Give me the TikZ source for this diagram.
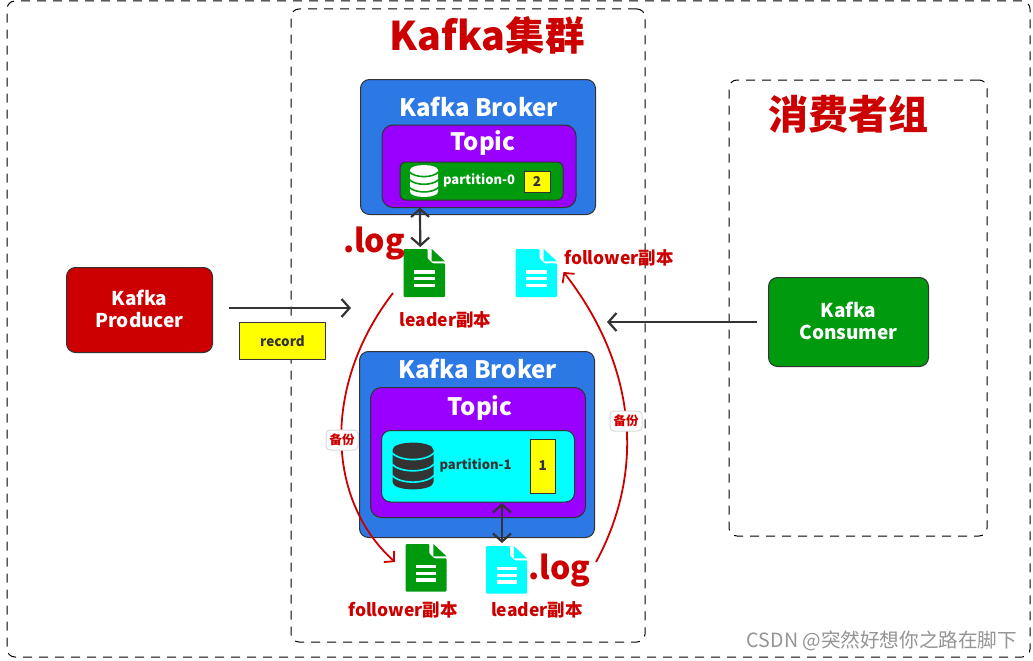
\documentclass[tikz,border=0pt]{standalone}
\usepackage{fontspec}
\setmainfont{Noto Sans CJK SC}
\usetikzlibrary{arrows.meta,calc}
\definecolor{kblue}{HTML}{2C78E4}
\definecolor{kpurple}{HTML}{9900FF}
\definecolor{kgreen}{HTML}{009A0E}
\definecolor{kred}{HTML}{CC0000}
\definecolor{kdark}{HTML}{333333}
\definecolor{kyellow}{HTML}{FFFF00}
\definecolor{kcyan}{HTML}{00FFFF}
\tikzset{
  x=1pt,y=-1pt,
  every node/.style={font=\bfseries,inner sep=0pt,outer sep=0pt,align=center},
  zone/.style={draw=black,line width=1pt,dash pattern=on 9pt off 7pt,rounded corners=8pt,fill=none},
  box/.style={draw=kdark,line width=1pt,rounded corners=#1,anchor=north west},
  box/.default=9pt,
  sticker/.style={draw=kdark,line width=1pt,fill=kyellow,text=kdark},
  title/.style={text=kred,font=\bfseries\fontsize{#1}{#1}\selectfont},
  redlabel/.style={text=kred,font=\bfseries\fontsize{17.5}{17.5}\selectfont},
  whitehead/.style={text=white,font=\bfseries\fontsize{#1}{#1}\selectfont},
  flow/.style={draw=kdark,line width=2.2pt,-{Straight Barb[length=8pt,width=18pt,line width=2.2pt]}},
  both/.style={draw=kdark,line width=2.2pt,{Straight Barb[length=8pt,width=18pt,line width=2.2pt]}-{Straight Barb[length=8pt,width=18pt,line width=2.2pt]}},
  backup/.style={draw=kred,line width=1.8pt,-{Straight Barb[length=7pt,width=15pt,line width=1.8pt]}},
  badge/.style={draw=black!15,line width=1pt,fill=white,rounded corners=4pt,minimum width=32pt,minimum height=20pt,text=kred,font=\bfseries\fontsize{12.5}{12.5}\selectfont},
  iconbox/.style 2 args={minimum width=#1,minimum height=#2},
}
% file icon: centre, width, height, colour
\newcommand{\fileicon}[4]{%
  \begin{scope}[shift={#1},x=#2,y=-#3]
    \fill[#4,rounded corners=1pt] (-.5,-.5) -- (.08,-.5) -- (.08,-.3) -- (.2,-.2) -- (.5,-.2) -- (.5,.5) -- (-.5,.5) -- cycle;
    \fill[#4] (.18,-.5) -- (.5,-.24) -- (.18,-.24) -- cycle;
    \foreach \yy in {-.02,.12,.26}{\fill[white] (-.24,\yy-.035) rectangle (.25,\yy+.035);}
  \end{scope}}
% database icon: centre, width, height, colour, background
\newcommand{\dbicon}[5]{%
  \begin{scope}[shift={#1},x=#2,y=-#3]
    \fill[#4] (-.5,-.34) .. controls (-.5,-.55) and (.5,-.55) .. (.5,-.34) -- (.5,.34) .. controls (.5,.55) and (-.5,.55) .. (-.5,.34) -- cycle;
    \foreach \yy in {-.28,-.04,.2}{\draw[#5,line width=1.6pt] (-.52,\yy) .. controls (-.3,\yy+.19) and (.3,\yy+.19) .. (.52,\yy);}
  \end{scope}}
\begin{document}
\begin{tikzpicture}
\useasboundingbox (0,0) rectangle (1033,661);
\fill[white] (0,0) rectangle (1033,661);
% zones
\node[zone,minimum width=1023pt,minimum height=656pt,anchor=north west] (outer) at (7,1) {};
\node[zone,minimum width=354pt,minimum height=633pt,anchor=north west] (cluster) at (291,9) {};
\node[zone,minimum width=258pt,minimum height=456pt,anchor=north west] (group) at (729,80) {};
\node[title=39.5] (clustertitle) at (487,35) {Kafka集群};
\node[title=40] (grouptitle) at (848,114) {消费者组};
% producer & consumer
\node[box,fill=kred,minimum width=146pt,minimum height=85pt,whitehead=19] (producer) at (66.5,267.5) {\raisebox{2pt}{Kafka}\\[3pt]\raisebox{2pt}{Producer}};
\node[box,fill=kgreen,minimum width=160pt,minimum height=89pt,whitehead=19] (consumer) at (768.5,277.5) {\raisebox{2pt}{Kafka}\\[3pt]\raisebox{2pt}{Consumer}};
\node[sticker,minimum width=86pt,minimum height=37pt,anchor=north west,font=\bfseries\fontsize{13.5}{13.5}\selectfont] (record) at (239.5,322.5) {record};
\coordinate (clusterin) at (351,308);
\coordinate (clusterout) at (607,322);
\draw[flow] ([xshift=16.5pt,yshift=2pt]producer.east) -- (clusterin);
\draw[flow] ([xshift=-12pt,yshift=0pt]consumer.west) -- (clusterout);
% broker 1
\node[box,fill=kblue,minimum width=235pt,minimum height=135pt] (broker1) at (360.5,79.5) {};
\node[whitehead=24] (broker1t) at (478.5,107) {Kafka Broker};
\node[box=11pt,fill=kpurple,minimum width=194pt,minimum height=82.5pt] (topic1) at (382,125) {};
\node[whitehead=24] (topic1t) at (483,143) {Topic};
\node[box=6pt,fill=kgreen,minimum width=163pt,minimum height=38pt] (part0) at (400,162) {};
\dbicon{(424,181)}{28pt}{32pt}{white}{kgreen}
\node[whitehead=13] (part0t) at (479,180.5) {partition-0};
\node[sticker,minimum width=26pt,minimum height=21pt,anchor=north west,font=\bfseries\fontsize{13.5}{13.5}\selectfont] (count2) at (524,171) {2};
% broker 2
\node[box,fill=kblue,minimum width=235pt,minimum height=186pt] (broker2) at (359.5,351.5) {};
\node[whitehead=24] (broker2t) at (477.5,369) {Kafka Broker};
\node[box=11pt,fill=kpurple,minimum width=215pt,minimum height=130pt] (topic2) at (370.5,387.5) {};
\node[whitehead=24] (topic2t) at (480,408) {Topic};
\node[box=9pt,fill=kcyan,minimum width=193pt,minimum height=71.5pt] (part1) at (381.5,430.5) {};
\dbicon{(413,466)}{41pt}{47pt}{kdark}{kcyan}
\node[text=kdark,font=\bfseries\fontsize{13}{13}\selectfont] (part1t) at (475.5,465.5) {partition-1};
\node[sticker,minimum width=25.5pt,minimum height=54pt,anchor=north west,font=\bfseries\fontsize{13.5}{13.5}\selectfont] (count1) at (530,439) {1};
% files
\node[iconbox={41.5pt}{48pt}] (fileA) at (424.25,273) {};
\fileicon{(424.25,273)}{41.5pt}{48pt}{kgreen}
\node[iconbox={41.5pt}{48pt}] (fileB) at (536.25,273) {};
\fileicon{(536.25,273)}{41.5pt}{48pt}{kcyan}
\node[iconbox={41pt}{47.5pt}] (fileC) at (426,567.75) {};
\fileicon{(426,567.75)}{41pt}{47.5pt}{kgreen}
\node[iconbox={41pt}{47.5pt}] (fileD) at (506.5,569.75) {};
\fileicon{(506.5,569.75)}{41pt}{47.5pt}{kcyan}
\node[title=32] (logA) at (374,244) {.log};
\node[title=32] (logB) at (559.5,571) {.log};
\node[redlabel] (labA) at (445.5,319.5) {leader副本};
\node[redlabel] (labB) at (619,257.5) {follower副本};
\node[redlabel] (labC) at (403,609.5) {follower副本};
\node[redlabel] (labD) at (537,609.5) {leader副本};
% double arrows
\draw[both] ([xshift=-59pt]topic1.south) -- ([xshift=-4pt,yshift=2pt]fileA.north);
\draw[both] ([xshift=24pt,yshift=-1pt]part1.south) -- ([xshift=-4.5pt,yshift=3pt]fileD.north);
% backup curves
\coordinate (backupAstart) at (393,293);
\coordinate (backupBstart) at (596,562);
\draw[backup] (backupAstart) .. controls (322,385) and (326,500) .. ([xshift=-10.5pt,yshift=5.75pt]fileC.west);
\draw[backup] (backupBstart) .. controls (646,470) and (636,365) .. ([xshift=6.5pt,yshift=1pt]fileB.east);
\node[badge] (badgeA) at (342,440) {备份};
\node[badge] (badgeB) at (626,421) {备份};
% watermark
\node[text=black!42,font=\fontsize{19.6}{19.6}\selectfont] (mark) at (882,641) {CSDN @突然好想你之路在脚下};
\end{tikzpicture}
\end{document}
